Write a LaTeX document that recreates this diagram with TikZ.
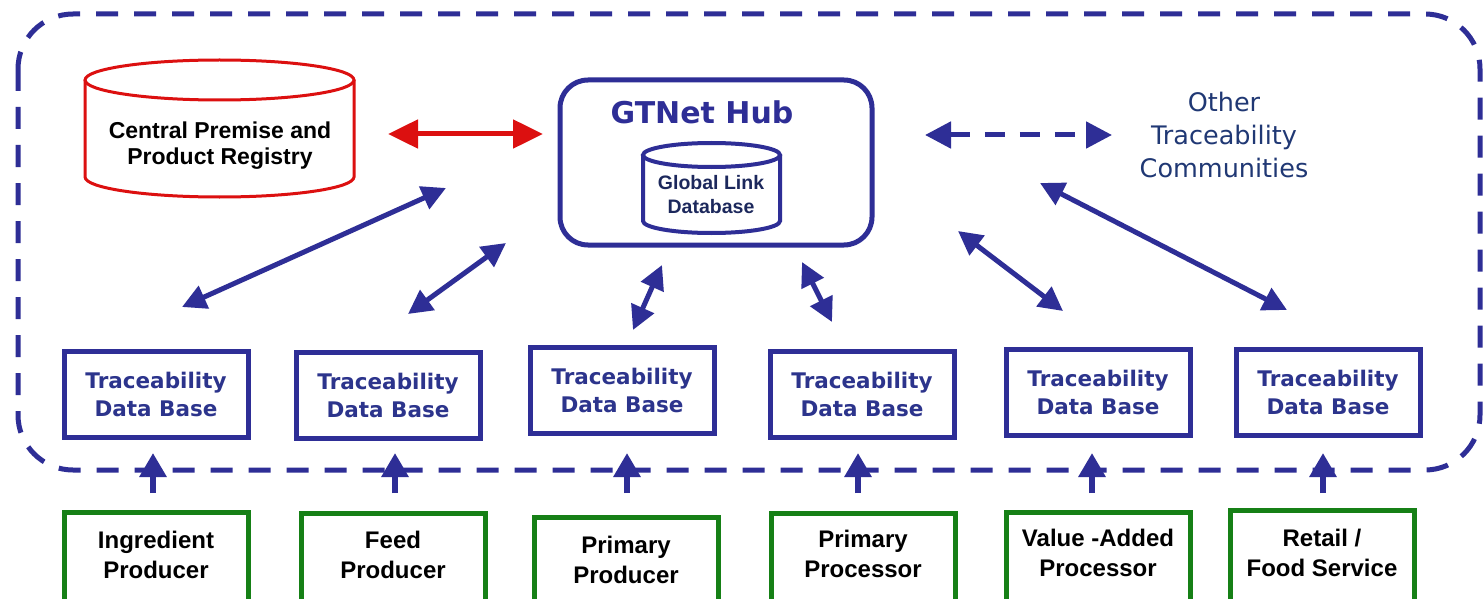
\documentclass[tikz,border=0pt]{standalone}
\usepackage{fontspec}
\setmainfont{Liberation Sans}
\newfontfamily\dvs{DejaVu Sans}
\usetikzlibrary{arrows.meta}
\definecolor{lineblue}{RGB}{46,46,150}
\definecolor{txtblue}{RGB}{44,52,140}
\definecolor{navy}{RGB}{28,40,92}
\definecolor{slate}{RGB}{32,56,116}
\definecolor{myred}{RGB}{220,16,16}
\definecolor{mygreen}{RGB}{22,128,22}
\tikzset{
  tbox/.style={draw=lineblue, line width=5pt, minimum width=184pt, minimum height=86pt, inner sep=0pt, align=center, text=txtblue, font=\dvs\bfseries\fontsize{21.5}{28}\selectfont},
  gbox/.style={draw=mygreen, line width=5pt, minimum width=184pt, minimum height=100pt, inner sep=0pt},
  gtxt/.style={align=center, inner sep=0pt, text=black, font=\bfseries\fontsize{24}{30}\selectfont},
  biarrow/.style={lineblue, line width=5pt, {Triangle[length=24pt,width=24pt]}-{Triangle[length=24pt,width=24pt]}},
  uparrow/.style={lineblue, line width=6pt, -{Triangle[length=24pt,width=26pt]}},
  outerline/.style={lineblue, line width=5pt, dash pattern=on 22pt off 16pt, rounded corners=55pt},
}
\begin{document}
\begin{tikzpicture}[x=1pt,y=1pt]
\useasboundingbox (0,0) rectangle (1483,-599);
\fill[white] (0,0) rectangle (1483,-599);
\clip (0,0) rectangle (1483,-599);

% outer dashed boundary
\draw[outerline] (18,-14) rectangle (1480,-470);

% central registry cylinder
\draw[myred, line width=3pt, fill=white] (85,-80) -- (85,-177) arc[start angle=180, end angle=360, x radius=134.5pt, y radius=20pt] -- (354,-80);
\draw[myred, line width=3pt] (219.5,-80) ellipse [x radius=134.5pt, y radius=20pt];
\node[align=center, inner sep=0pt, font=\bfseries\fontsize{23}{26}\selectfont] (reg) at (220,-146) {Central Premise and\\Product Registry};

% hub
\node[draw=lineblue, line width=5pt, rounded corners=28pt, minimum width=312pt, minimum height=165pt] (hub) at (716,-162.5) {};
\node[text=lineblue, inner sep=0pt, font=\dvs\bfseries\fontsize{30}{36}\selectfont] (hubtitle) at (702,-112) {GTNet Hub};
\draw[lineblue, line width=4pt, fill=white] (643,-155) -- (643,-221) arc[start angle=180, end angle=360, x radius=68.5pt, y radius=12pt] -- (780,-155);
\draw[lineblue, line width=4pt] (711.5,-155) ellipse [x radius=68.5pt, y radius=12pt];
\node[align=center, inner sep=0pt, text=navy, font=\bfseries\fontsize{19.5}{24}\selectfont] (gld) at (711,-195) {Global Link\\Database};

% other communities
\node[align=center, inner sep=0pt, text=slate, font=\dvs\fontsize{25.5}{33}\selectfont] (other) at (1224,-135) {Other\\Traceability\\Communities};

% traceability boxes
\node[tbox] (t1) at (156,-394) {Traceability\\Data Base};
\node[tbox] (t2) at (388,-395) {Traceability\\Data Base};
\node[tbox] (t3) at (622,-390) {Traceability\\Data Base};
\node[tbox] (t4) at (862,-394) {Traceability\\Data Base};
\node[tbox] (t5) at (1098,-392) {Traceability\\Data Base};
\node[tbox] (t6) at (1328,-392) {Traceability\\Data Base};

% green boxes
\node[gbox] (g1) at (156,-562) {};
\node[gbox] (g2) at (393,-563) {};
\node[gbox] (g3) at (626,-567) {};
\node[gbox] (g4) at (863,-563) {};
\node[gbox] (g5) at (1098,-562) {};
\node[gbox] (g6) at (1322,-560) {};
\node[gtxt] (g1t) at (156,-555) {Ingredient\\Producer};
\node[gtxt] (g2t) at (393,-555) {Feed\\Producer};
\node[gtxt] (g3t) at (626,-560) {Primary\\Producer};
\node[gtxt] (g4t) at (863,-554) {Primary\\Processor};
\node[gtxt] (g5t) at (1098,-553) {Value -Added\\Processor};
\node[gtxt] (g6t) at (1322,-553) {Retail /\\Food Service};

% up arrows
\foreach \i/\xx in {1/153,2/395,3/627,4/858,5/1092,6/1323}{
  \coordinate (ua\i) at (\xx,-493);
  \coordinate (ub\i) at (\xx,-453);
  \draw[uparrow] (ua\i) -- (ub\i);
}

% red arrow
\coordinate (r1) at (388,-134);
\coordinate (r2) at (543,-134);
\draw[myred, line width=5pt, {Triangle[length=30pt,width=28pt]}-{Triangle[length=30pt,width=28pt]}] (r1) -- (r2);

% dashed arrow to other communities
\coordinate (d1) at (925,-135);
\coordinate (d2) at (1112,-135);
\draw[lineblue, line width=5pt, dash pattern=on 20pt off 15pt, {Triangle[length=26pt,width=26pt]}-{Triangle[length=26pt,width=26pt]}] (d1) -- (d2);

% diagonal double arrows
\coordinate (a1s) at (182,-307); \coordinate (a1e) at (446,-188);
\coordinate (a2s) at (408,-314); \coordinate (a2e) at (506,-243);
\coordinate (a3s) at (633,-330); \coordinate (a3e) at (662,-265);
\coordinate (a4s) at (802,-262); \coordinate (a4e) at (832,-322);
\coordinate (a5s) at (958,-231); \coordinate (a5e) at (1063,-311);
\coordinate (a6s) at (1040,-183); \coordinate (a6e) at (1287,-310);
\foreach \i in {1,...,6}{\draw[biarrow] (a\i s) -- (a\i e);}
\end{tikzpicture}
\end{document}
